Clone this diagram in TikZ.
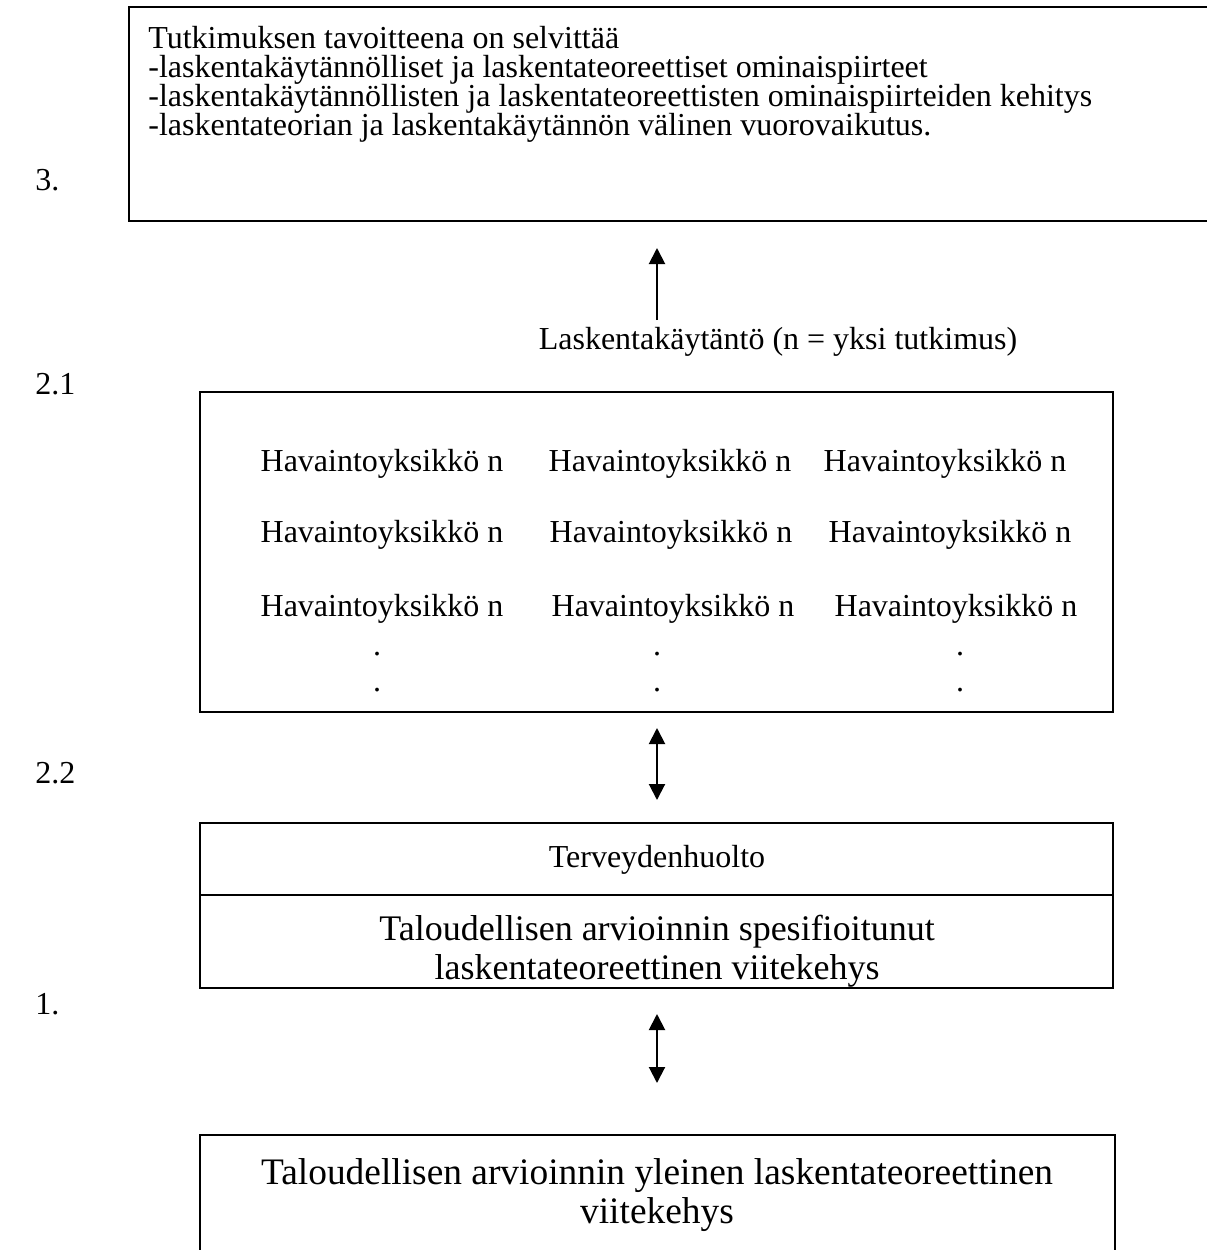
\documentclass[tikz,border=0pt]{standalone}
\usepackage{fontspec}
\setmainfont{Liberation Serif}
\usetikzlibrary{arrows.meta}
\begin{document}
\begin{tikzpicture}[x=0.5pt,y=-0.5pt,
  frame/.style={draw,line width=1.3pt},
  txt/.style={inner sep=0pt,font=\fontsize{16}{14}\selectfont},
  aimline/.style={txt,anchor=base west,text height=10.5pt,text depth=3.5pt},
  bigtxt/.style={inner sep=0pt,font=\fontsize{18}{19.5}\selectfont,align=center},
  link/.style={line width=1pt,-{Triangle[width=8pt,length=8pt]}},
  dlink/.style={line width=1pt,{Triangle[width=8pt,length=8pt]}-{Triangle[width=8pt,length=8pt]}}]
\useasboundingbox (0,0) rectangle (1207,1250);
\clip (0,0) rectangle (1207,1250);

% level labels
\node[txt,anchor=west] (l3) at (35,180) {3.};
\node[txt,anchor=west] (l21) at (35,384) {2.1};
\node[txt,anchor=west] (l22) at (35,773) {2.2};
\node[txt,anchor=west] (l1) at (35,1004) {1.};

% research aims (box runs past the right edge)
\draw[frame] (129,7) rectangle (1220,221);
\node[aimline] (aim0) at (148,48) {Tutkimuksen tavoitteena on selvittää};
\node[aimline] (aim1) at (148,77) {-laskentakäytännölliset ja laskentateoreettiset ominaispiirteet};
\node[aimline] (aim2) at (148,106) {-laskentakäytännöllisten ja laskentateoreettisten ominaispiirteiden kehitys};
\node[aimline] (aim3) at (148,135) {-laskentateorian ja laskentakäytännön välinen vuorovaikutus.};

\coordinate (a1s) at (657,320);
\coordinate (a1e) at (657,248);
\draw[link] (a1s) -- (a1e);

% accounting practice
\node[txt] (practice) at (778,342) {Laskentakäytäntö (n = yksi tutkimus)};
\draw[frame] (200,392) rectangle (1113,712);
\node[txt] (h11) at (382,464) {Havaintoyksikkö n};
\node[txt] (h12) at (670,464) {Havaintoyksikkö n};
\node[txt] (h13) at (945,464) {Havaintoyksikkö n};
\node[txt] (h21) at (382,535) {Havaintoyksikkö n};
\node[txt] (h22) at (671,535) {Havaintoyksikkö n};
\node[txt] (h23) at (950,535) {Havaintoyksikkö n};
\node[txt] (h31) at (382,609) {Havaintoyksikkö n};
\node[txt] (h32) at (673,609) {Havaintoyksikkö n};
\node[txt] (h33) at (956,609) {Havaintoyksikkö n};
\foreach \xx/\nm in {377/a,657/b,960/c}{
  \node[txt] (d1\nm) at (\xx,654) {.};
  \node[txt] (d2\nm) at (\xx,690) {.};
}

\coordinate (a2s) at (657,728);
\coordinate (a2e) at (657,800);
\draw[dlink] (a2s) -- (a2e);

% specified framework
\draw[frame] (200,823) rectangle (1113,988);
\draw[frame] (200,895) -- (1113,895);
\node[txt] (health) at (657,860) {Terveydenhuolto};
\node[bigtxt] (spec) at (657,951) {Taloudellisen arvioinnin spesifioitunut\\laskentateoreettinen viitekehys};

\coordinate (a3s) at (657,1014);
\coordinate (a3e) at (657,1083);
\draw[dlink] (a3s) -- (a3e);

% general framework (box runs past the bottom edge)
\draw[frame] (200,1135) rectangle (1115,1270);
\node[bigtxt,font=\fontsize{18.7}{19.5}\selectfont] (general) at (657,1195) {Taloudellisen arvioinnin yleinen laskentateoreettinen\\viitekehys};
\end{tikzpicture}
\end{document}
